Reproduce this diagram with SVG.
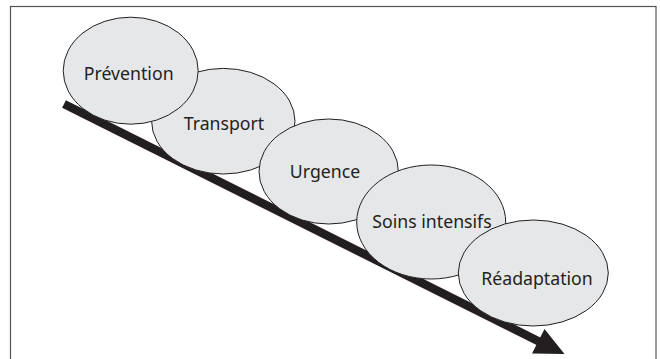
<svg xmlns="http://www.w3.org/2000/svg" width="660" height="359" viewBox="0 0 660 359">
  <style>
    .frame { fill: #ffffff; stroke: #555555; stroke-width: 1.2; }
    .stage { fill: #e6e7e8; stroke: #231f20; stroke-width: 1; }
    .label { font-family: "Noto Sans", "Open Sans", "Liberation Sans", sans-serif; font-size: 17.7px; fill: #231f20; text-anchor: middle; }
    .shaft { stroke: #231f20; stroke-width: 8.5; fill: none; }
    .head { fill: #231f20; }
  </style>
  <rect width="660" height="359" fill="#ffffff"/>
  <rect class="frame" x="10.5" y="6.5" width="645.5" height="370"/>

  <!-- descending flow arrow, drawn beneath the stages -->
  <g id="connectors">
    <line class="shaft" x1="64" y1="104" x2="539" y2="341.5"/>
    <polygon class="head" points="544.5,329 532,353.5 564.5,354"/>
  </g>

  <g id="transport">
    <ellipse class="stage" cx="223.3" cy="121.2" rx="71.7" ry="52.8"/>
    <text class="label" x="224" y="130">Transport</text>
  </g>
  <g id="prevention">
    <ellipse class="stage" cx="130.7" cy="70.7" rx="67.5" ry="53.5"/>
    <text class="label" x="128.7" y="80">Prévention</text>
  </g>
  <g id="urgence">
    <ellipse class="stage" cx="328.7" cy="171.5" rx="69.7" ry="52.5"/>
    <text class="label" x="325" y="178.3">Urgence</text>
  </g>
  <g id="soins-intensifs">
    <ellipse class="stage" cx="431.2" cy="222" rx="74.5" ry="57"/>
    <text class="label" x="432" y="228.3">Soins intensifs</text>
  </g>
  <g id="readaptation">
    <ellipse class="stage" cx="533.3" cy="273" rx="75" ry="53"/>
    <text class="label" x="537" y="285">Réadaptation</text>
  </g>
</svg>
